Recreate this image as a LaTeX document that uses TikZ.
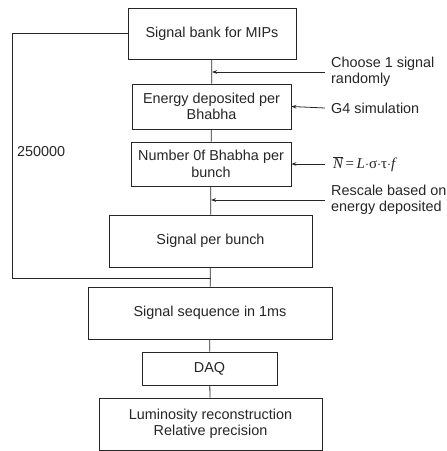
\documentclass[tikz,border=0pt]{standalone}
\usepackage{fontspec}
\setmainfont{Liberation Sans}
\newfontfamily\formulafont{Liberation Serif}
\usepackage{tikz}
\usetikzlibrary{positioning}
\usetikzlibrary{calc}
\usetikzlibrary{arrows.meta}
\tikzset{
	block/.style={
		draw=black!85, line width=0.8pt, fill=white, align=center,
		inner sep=0pt, text=black!85
	},
	sidenote/.style={
		anchor=west, align=left, inner xsep=6pt, inner ysep=0pt, text=black!85
	},
	feed/.style={
		-{Stealth[length=5pt,width=3.6pt]}, draw=black!85, line width=0.8pt
	},
	link/.style={
		draw=black!85, line width=0.8pt
	}
}
\newcommand\rateformula{{\formulafont\fontsize{15}{17}\selectfont
	$\overline{\hbox{\itshape N}}$\,=\,\textit{L}$\cdot$σ$\cdot$τ$\cdot$\textit{f}}}
\begin{document}
\begin{tikzpicture}[x=1pt, y=-1pt, every node/.style={font=\fontsize{14.4}{16.5}\selectfont}]
	\useasboundingbox (0,0) rectangle (447,451);

	\node[block, minimum width=168pt, minimum height=51pt] (bank) at (212,33.5) {Signal bank for MIPs};
	\node[block, minimum width=159pt, minimum height=45pt] (energy) at (211.5,106.5) {Energy deposited per\\Bhabha};
	\node[block, minimum width=160pt, minimum height=44pt] (number) at (211,164) {Number 0f Bhabha per\\bunch};
	\node[block, minimum width=203pt, minimum height=52pt] (perbunch) at (210.5,241) {Signal per bunch};
	\node[block, minimum width=244pt, minimum height=52pt] (sequence) at (210,313) {Signal sequence in 1ms};
	\node[block, minimum width=135pt, minimum height=33pt] (daq) at (209.5,368.5) {DAQ};
	\node[block, minimum width=223pt, minimum height=52pt] (lumi) at (210.5,424) {Luminosity reconstruction\\Relative precision};

	% notes on the right
	\node[sidenote] (choose) at (325,72) {Choose 1 signal\\randomly};
	\node[sidenote] (g4) at (325,108) {G4 simulation};
	\node[sidenote, inner xsep=8pt] (rate) at (325,164) {\rateformula};
	\node[sidenote] (rescale) at (325,200) {Rescale based on\\energy deposited};
	\node[anchor=west, inner sep=0pt, text=black!85] (count) at (17,152) {250000};

	\coordinate (merge) at (210.5,278);
	\coordinate (loop) at (12,278);

	\draw[link] (bank) -- (energy);
	\draw[link] (energy) -- (number);
	\draw[link] (number) -- (perbunch);
	\draw[link] (perbunch) -- (sequence);
	\draw[link] (sequence) -- (daq);
	\draw[link] (daq) -- (lumi);
	\draw[link] (bank.west) -| (loop) -- (merge);

	\draw[feed] (choose.west) -- (choose.west -| bank.south);
	\draw[feed] (g4.west) -- (energy.east);
	\draw[feed] (rate.west) -- (number.east);
	\draw[feed] (rescale.west) -- (rescale.west -| number.south);
\end{tikzpicture}
\end{document}
